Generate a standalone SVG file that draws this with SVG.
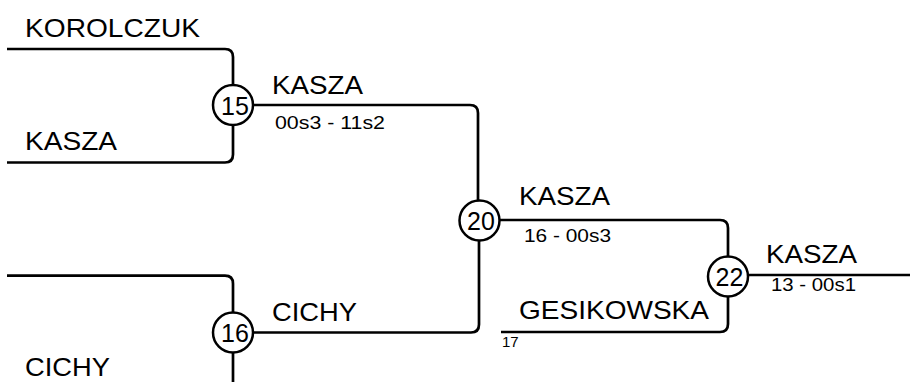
<svg xmlns="http://www.w3.org/2000/svg" width="910" height="384" viewBox="0 0 910 384">
<style>
.ln{fill:none;stroke:#000;stroke-width:2.7;stroke-linecap:butt}
.cir{fill:#fff;stroke:#000;stroke-width:2.5}
.nm{font-family:"Liberation Sans",Arial,sans-serif;font-size:25px;fill:#000}
.sc{font-family:"Liberation Sans",Arial,sans-serif;font-size:18px;fill:#000}
.sm{font-family:"Liberation Sans",Arial,sans-serif;font-size:15px;fill:#000}
.num{font-family:"Liberation Sans",Arial,sans-serif;font-size:25px;fill:#000;text-anchor:middle}
</style>
<rect width="910" height="384" fill="#fff"/>
<g id="connectors">
<path class="ln" d="M7,49 H225 Q233,49 233,57 V85"/>
<path class="ln" d="M7,162.5 H225 Q233,162.5 233,154.5 V125"/>
<path class="ln" d="M253,105 H470 Q478,105 478,113 V200"/>
<path class="ln" d="M7,275.7 H225 Q233,275.7 233,283.7 V312.5"/>
<path class="ln" d="M233,352.5 V382"/>
<path class="ln" d="M253,332.5 H471 Q479,332.5 479,324.5 V241"/>
<path class="ln" d="M500,220 H720 Q728,220 728,228 V256.5"/>
<path class="ln" d="M501,332 H720 Q728,332 728,324 V296.5"/>
<path class="ln" d="M748,275 H910"/>
</g>
<g id="labels">
<text class="nm" x="25" y="36.5" textLength="175" lengthAdjust="spacingAndGlyphs">KOROLCZUK</text>
<text class="nm" x="25" y="150" textLength="92" lengthAdjust="spacingAndGlyphs">KASZA</text>
<text class="nm" x="272" y="93.5" textLength="91" lengthAdjust="spacingAndGlyphs">KASZA</text>
<text class="sc" x="275" y="128.5" textLength="110" lengthAdjust="spacingAndGlyphs">00s3 - 11s2</text>
<text class="nm" x="519" y="205" textLength="91" lengthAdjust="spacingAndGlyphs">KASZA</text>
<text class="sc" x="524" y="242" textLength="87" lengthAdjust="spacingAndGlyphs">16 - 00s3</text>
<text class="nm" x="519" y="319" textLength="190" lengthAdjust="spacingAndGlyphs">GESIKOWSKA</text>
<text class="sm" x="502" y="347">17</text>
<text class="nm" x="272" y="321" textLength="85" lengthAdjust="spacingAndGlyphs">CICHY</text>
<text class="nm" x="25" y="376" textLength="85" lengthAdjust="spacingAndGlyphs">CICHY</text>
<text class="nm" x="766" y="263" textLength="91" lengthAdjust="spacingAndGlyphs">KASZA</text>
<text class="sc" x="771" y="291" textLength="85" lengthAdjust="spacingAndGlyphs">13 - 00s1</text>
</g>
<g id="node15">
<circle class="cir" cx="233" cy="105" r="20"/>
<text class="num" x="235" y="114.5">15</text>
</g>
<g id="node16">
<circle class="cir" cx="233" cy="332.5" r="20"/>
<text class="num" x="235" y="342">16</text>
</g>
<g id="node20">
<circle class="cir" cx="479.5" cy="220.5" r="20"/>
<text class="num" x="481" y="230">20</text>
</g>
<g id="node22">
<circle class="cir" cx="728" cy="276.5" r="20"/>
<text class="num" x="729.5" y="286">22</text>
</g>
</svg>
